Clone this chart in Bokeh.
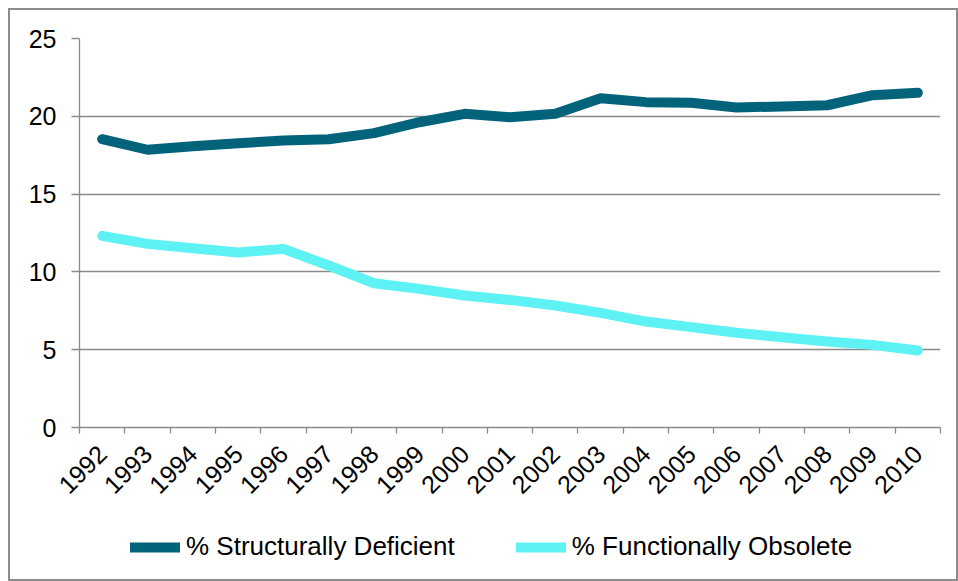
from math import pi
from bokeh.plotting import figure
from bokeh.layouts import column
from bokeh.models import FixedTicker, Legend, LegendItem, ColumnDataSource, Range1d
from bokeh.embed import file_html
from bokeh.resources import INLINE

years = [str(y) for y in range(1992, 2011)]
structurally_deficient = [18.53, 17.85, 18.08, 18.27, 18.44, 18.53, 18.92, 19.62, 20.16, 19.94,
                          20.16, 21.16, 20.91, 20.87, 20.57, 20.63, 20.71, 21.36, 21.51]
functionally_obsolete = [12.32, 11.80, 11.52, 11.25, 11.48, 10.41, 9.27, 8.91, 8.48, 8.20,
                         7.84, 7.37, 6.81, 6.45, 6.09, 5.80, 5.53, 5.31, 4.95]
series_names = ["% Structurally Deficient", "% Functionally Obsolete"]
series_colors = ["#03637B", "#5EF2F5"]
y_ticks = [0, 5, 10, 15, 20, 25]

xpos = [i + 0.5 for i in range(len(years))]
src = ColumnDataSource(dict(x=xpos, sd=structurally_deficient, fo=functionally_obsolete))

FONT = "Liberation Sans"
GRID = "#8a8a8a"

# ---- main chart ----
p = figure(width=946, height=500, output_backend="svg", toolbar_location=None,
           x_range=Range1d(0, len(years)), y_range=Range1d(0, 25),
           min_border_left=69, min_border_right=16, min_border_top=28, min_border_bottom=83)
p.outline_line_color = None
p.background_fill_color = "white"
p.border_fill_color = "white"

sd = p.line("x", "sd", source=src, line_color=series_colors[0], line_width=10,
            line_cap="round", line_join="round")
fo = p.line("x", "fo", source=src, line_color=series_colors[1], line_width=10,
            line_cap="round", line_join="round")

p.xaxis.ticker = FixedTicker(ticks=xpos, minor_ticks=list(range(len(years) + 1)))
p.xaxis.major_label_overrides = {x: y for x, y in zip(xpos, years)}
p.xaxis.major_label_orientation = pi / 4
p.xaxis.major_tick_out = 0
p.xaxis.major_tick_in = 0
p.xaxis.minor_tick_out = 6
p.xaxis.minor_tick_in = 0
p.xaxis.minor_tick_line_color = GRID
p.xaxis.minor_tick_line_width = 1.3
p.xaxis.axis_line_color = GRID
p.xaxis.axis_line_width = 1.3
p.xaxis.major_label_text_font = FONT
p.xaxis.major_label_text_font_size = "25px"
p.xaxis.major_label_text_color = "black"
p.xaxis.major_label_standoff = 16

p.yaxis.ticker = FixedTicker(ticks=y_ticks)
p.yaxis.major_tick_out = 8
p.yaxis.major_tick_in = 0
p.yaxis.minor_tick_line_color = None
p.yaxis.major_tick_line_color = GRID
p.yaxis.major_tick_line_width = 1.3
p.yaxis.axis_line_color = GRID
p.yaxis.axis_line_width = 1.3
p.yaxis.major_label_text_font = FONT
p.yaxis.major_label_text_font_size = "25px"
p.yaxis.major_label_text_color = "black"
p.yaxis.major_label_standoff = 15

p.xgrid.visible = False
p.ygrid.ticker = FixedTicker(ticks=y_ticks)
p.ygrid.grid_line_color = GRID
p.ygrid.grid_line_width = 1.3

# ---- legend strip below the chart (frame is aligned with the chart frame) ----
q = figure(width=946, height=69, output_backend="svg", toolbar_location=None,
           x_axis_location=None, y_axis_location=None,
           min_border=0, x_range=Range1d(0, 1), y_range=Range1d(0, 1))
q.outline_line_color = None
q.grid.visible = False
q_lines = [q.line(x=[float("nan")], y=[float("nan")], line_color=c, line_width=10,
                  line_cap="round")
           for c in series_colors]

legend = Legend(items=[LegendItem(label=n, renderers=[r]) for n, r in zip(series_names, q_lines)],
                orientation="horizontal", location=(51, 17),
                glyph_width=50, glyph_height=30, label_height=30, label_standoff=6, spacing=61,
                padding=0, margin=0, border_line_color=None, background_fill_alpha=0,
                label_text_font=FONT, label_text_font_size="26px", label_text_color="black")
q.add_layout(legend, "center")

layout = column(p, q, spacing=0)
layout.styles = {"border": "2px solid #8c8c8c"}
layout.margin = (8, 0, 0, 8)

open("out.html", "w").write(file_html(layout, INLINE))
